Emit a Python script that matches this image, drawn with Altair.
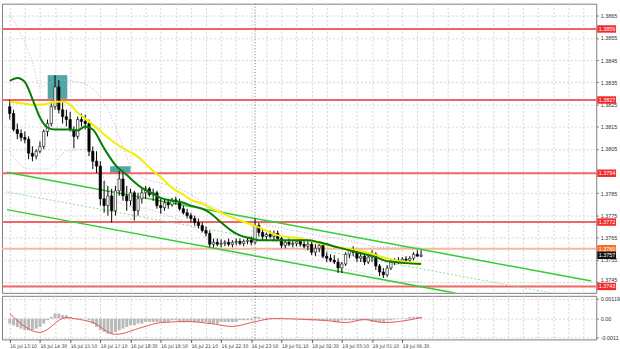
import altair as alt
import pandas as pd

# ---------------- data ----------------
time_labels = ["16 Jul 13:10", "16 Jul 14:30", "16 Jul 15:50", "16 Jul 17:10", "16 Jul 18:30",
               "16 Jul 19:50", "16 Jul 21:10", "16 Jul 22:30", "16 Jul 23:50", "19 Jul 01:10",
               "19 Jul 02:30", "19 Jul 03:50", "19 Jul 05:10", "19 Jul 06:30"]
label_bars = [0, 16, 32, 48, 64, 80, 96, 112, 128, 144, 160, 176, 192, 208]

candle_bars = list(range(0, 220, 2))
first_open = 1.38240
highs = [1.38271, 1.38226, 1.38164, 1.38137, 1.38128, 1.38106, 1.38061, 1.38048, 1.38084, 1.38137,
         1.38182, 1.38262, 1.38382, 1.38360, 1.38262, 1.38226, 1.38217, 1.38151, 1.38195, 1.38209,
         1.38204, 1.38182, 1.38061, 1.38039, 1.37994, 1.37905, 1.37883, 1.37870, 1.37883, 1.37950,
         1.37941, 1.37883, 1.37870, 1.37861, 1.37852, 1.37870, 1.37883, 1.37878, 1.37870, 1.37861,
         1.37825, 1.37825, 1.37825, 1.37829, 1.37834, 1.37825, 1.37794, 1.37780, 1.37762, 1.37749,
         1.37736, 1.37718, 1.37700, 1.37682, 1.37646, 1.37646, 1.37642, 1.37638, 1.37646, 1.37638,
         1.37646, 1.37646, 1.37642, 1.37651, 1.37655, 1.37736, 1.37718, 1.37691, 1.37673, 1.37682,
         1.37682, 1.37682, 1.37655, 1.37638, 1.37646, 1.37638, 1.37638, 1.37646, 1.37638, 1.37638,
         1.37638, 1.37620, 1.37629, 1.37624, 1.37584, 1.37575, 1.37571, 1.37557, 1.37540, 1.37584,
         1.37602, 1.37611, 1.37593, 1.37584, 1.37584, 1.37571, 1.37593, 1.37584, 1.37531, 1.37513,
         1.37526, 1.37548, 1.37557, 1.37562, 1.37562, 1.37566, 1.37566, 1.37584, 1.37593, 1.37593]
lows = [1.38182, 1.38128, 1.38093, 1.38084, 1.38075, 1.38003, 1.37994, 1.38003, 1.38030, 1.38048,
        1.38106, 1.38151, 1.38226, 1.38209, 1.38164, 1.38151, 1.38128, 1.38052, 1.38093, 1.38151,
        1.38137, 1.38017, 1.37959, 1.37941, 1.37794, 1.37762, 1.37749, 1.37718, 1.37749, 1.37838,
        1.37816, 1.37771, 1.37794, 1.37727, 1.37749, 1.37803, 1.37825, 1.37834, 1.37816, 1.37780,
        1.37758, 1.37771, 1.37780, 1.37789, 1.37798, 1.37771, 1.37754, 1.37736, 1.37718, 1.37704,
        1.37691, 1.37673, 1.37655, 1.37606, 1.37606, 1.37611, 1.37606, 1.37611, 1.37611, 1.37606,
        1.37615, 1.37615, 1.37611, 1.37620, 1.37615, 1.37620, 1.37655, 1.37638, 1.37638, 1.37646,
        1.37638, 1.37638, 1.37602, 1.37602, 1.37611, 1.37606, 1.37611, 1.37611, 1.37602, 1.37593,
        1.37571, 1.37566, 1.37584, 1.37557, 1.37540, 1.37540, 1.37531, 1.37490, 1.37490, 1.37522,
        1.37557, 1.37566, 1.37540, 1.37540, 1.37526, 1.37531, 1.37540, 1.37504, 1.37477, 1.37468,
        1.37473, 1.37504, 1.37526, 1.37531, 1.37535, 1.37540, 1.37540, 1.37548, 1.37566, 1.37562]
closes = [1.38209, 1.38137, 1.38119, 1.38101, 1.38093, 1.38030, 1.38017, 1.38039, 1.38061, 1.38128,
          1.38164, 1.38240, 1.38329, 1.38226, 1.38195, 1.38182, 1.38137, 1.38106, 1.38182, 1.38173,
          1.38164, 1.38039, 1.37994, 1.37972, 1.37825, 1.37794, 1.37838, 1.37771, 1.37861, 1.37914,
          1.37838, 1.37816, 1.37852, 1.37771, 1.37825, 1.37852, 1.37870, 1.37843, 1.37852, 1.37794,
          1.37785, 1.37807, 1.37798, 1.37820, 1.37812, 1.37780, 1.37762, 1.37749, 1.37736, 1.37718,
          1.37704, 1.37682, 1.37669, 1.37620, 1.37629, 1.37620, 1.37624, 1.37629, 1.37620, 1.37629,
          1.37633, 1.37624, 1.37633, 1.37638, 1.37629, 1.37704, 1.37673, 1.37655, 1.37664, 1.37655,
          1.37669, 1.37646, 1.37615, 1.37629, 1.37620, 1.37624, 1.37633, 1.37620, 1.37611, 1.37620,
          1.37584, 1.37602, 1.37615, 1.37566, 1.37557, 1.37548, 1.37540, 1.37513, 1.37531, 1.37575,
          1.37593, 1.37584, 1.37557, 1.37566, 1.37540, 1.37562, 1.37575, 1.37522, 1.37495, 1.37482,
          1.37513, 1.37540, 1.37548, 1.37544, 1.37553, 1.37548, 1.37557, 1.37575, 1.37566, 1.37571]

ma_bars = [0, 4, 8, 12, 16, 20, 24, 28, 32, 36, 40, 44, 50, 56, 62, 66, 70, 76, 80, 86,
           92, 96, 102, 106, 112, 118, 122, 128, 132, 142, 154, 158, 164, 174, 184, 194, 200, 204, 210, 218]
ma_fast = [1.38356, 1.38369, 1.38351, 1.38275, 1.38191, 1.38146, 1.38137, 1.38137, 1.38137, 1.38133,
           1.38151, 1.38137, 1.38052, 1.37977, 1.37932, 1.37901, 1.37874, 1.37847, 1.37829, 1.37816,
           1.37807, 1.37794, 1.37780, 1.37762, 1.37718, 1.37678, 1.37660, 1.37646, 1.37638, 1.37638,
           1.37638, 1.37638, 1.37629, 1.37606, 1.37584, 1.37562, 1.37544, 1.37540, 1.37535, 1.37531]
ma_slow = [1.38262, 1.38258, 1.38253, 1.38249, 1.38249, 1.38253, 1.38262, 1.38262, 1.38249, 1.38213,
           1.38186, 1.38159, 1.38115, 1.38075, 1.38043, 1.38026, 1.37999, 1.37950, 1.37923, 1.37874,
           1.37843, 1.37820, 1.37803, 1.37785, 1.37762, 1.37740, 1.37727, 1.37709, 1.37696, 1.37660,
           1.37646, 1.37638, 1.37624, 1.37606, 1.37593, 1.37571, 1.37557, 1.37548, 1.37540, 1.37535]

band_up_bars = [0, 6, 12, 16, 20, 26, 36, 44, 52, 58, 64, 70, 80, 90, 104, 116, 128, 140, 156, 170, 184, 196, 218]
band_up = [1.38654, 1.38565, 1.38440, 1.38329, 1.38342, 1.38360, 1.38351, 1.38320, 1.38226, 1.38106,
           1.37972, 1.37923, 1.37896, 1.37869, 1.37803, 1.37758, 1.37727, 1.37700, 1.37673, 1.37651,
           1.37629, 1.37606, 1.37606]
band_lo_bars = [0, 10, 20, 30, 40, 46, 54, 62, 72, 84, 96, 104, 112, 122, 130, 138, 150, 160, 170, 180, 192, 200, 218]
band_lo = [1.38039, 1.37959, 1.37959, 1.38039, 1.38048, 1.37994, 1.37838, 1.37794, 1.37780, 1.37749,
           1.37704, 1.37646, 1.37593, 1.37571, 1.37566, 1.37593, 1.37602, 1.37584, 1.37540, 1.37504,
           1.37482, 1.37455, 1.37450]

channel_names = ["upper", "upper", "lower", "lower", "middle", "middle"]
channel_bars = [-1.5, 308.2, -1.5, 236, -1.5, 288]
channel_prices = [1.37944, 1.37454, 1.37776, 1.37400, 1.37856, 1.37399]

level_prices = [1.3859, 1.3827, 1.3794, 1.3772, 1.3743, 1.3760]
level_labels = ["1.3859", "1.3827", "1.3794", "1.3772", "1.3743", "1.3760"]
level_line_colors = ["#f06666", "#f06666", "#f06666", "#f06666", "#f06666", "#f7b89c"]
level_box_colors = ["#f52a2a", "#f52a2a", "#f52a2a", "#f52a2a", "#f52a2a", "#f2702e"]
current_price = [1.3757]
current_label = ["1.3757"]

zone_start = [20.1, 53.2]
zone_end = [30.5, 64.0]
zone_top = [1.38382, 1.37972]
zone_bottom = [1.38275, 1.37937]

separator_bar = [130]

# 1.3795 is hidden behind the 1.3794 level box in the reference
price_ticks = [1.3745, 1.3755, 1.3765, 1.3775, 1.3785, 1.3805,
               1.3815, 1.3825, 1.3835, 1.3845, 1.3855, 1.3865]

macd_hist = [-3, -4, -5, -6, -7, -7, -7, -6, -5, -3,
             -1, 1, 3, 3, 2, 2, 1, 0.3, 0.3, 0.3,
             0.2, -1, -3, -5, -7, -8, -9, -9, -8, -7,
             -6, -5, -4, -4, -3, -3, -2, -2, -2, -2,
             -2, -2, -2, -1, -1, -2, -2, -2, -2, -2,
             -2, -2, -2, -3, -3, -3, -2, -2, -2, -2,
             -2, -1, -1, -1, -1, 1, 1, 0.4, 0.4, 0.3,
             0.3, 0.3, 0.2, 0.2, 0.2, 0.2, 0.2, 0.2, -0.3, -1,
             -1, -1, -1, -1, -1, -1, -2, -2, -1, -1,
             -1, -1, -1, -1, -1, -1, -2, -2, -2, -2,
             -1, -1, -0.4, -0.3, 0.3, 0.4, 1, 1, 1, 1]  # in units of 0.0001
sig_bars = [0, 16, 30, 34, 44, 56, 70, 80, 94, 106, 118, 128, 140, 158, 168, 178, 188, 198, 206, 218]
sig_vals = [0.00029, -0.00082, 0.00006, 0.0, -0.00024, -0.00094, -0.00053, -0.00024, -0.00018, -0.00029,
            -0.00047, -0.00024, 0.0, -0.00006, -0.00012, -0.00024, -0.00006, -0.00024, -0.00018, 0.00006]
macd_ticks = [0.00119, 0.0, -0.0011]
macd_tick_text = ["0.00119", "0.00", "-0.0011"]

# ---------------- frames ----------------
opens = [first_open] + closes[:-1]
candles = pd.DataFrame({"bar": candle_bars, "open": opens, "high": highs, "low": lows, "close": closes})
candles["fill"] = ["#ffffff" if c > o else "#000000" for o, c in zip(opens, closes)]

ma_df = pd.DataFrame({"bar": ma_bars, "fast": ma_fast, "slow": ma_slow})
bup_df = pd.DataFrame({"bar": band_up_bars, "p": band_up})
blo_df = pd.DataFrame({"bar": band_lo_bars, "p": band_lo})
chan_df = pd.DataFrame({"name": channel_names, "bar": channel_bars, "p": channel_prices})
lev_df = pd.DataFrame({"p": level_prices, "label": level_labels, "line": level_line_colors, "box": level_box_colors})
cur_df = pd.DataFrame({"p": current_price, "label": current_label})
zone_df = pd.DataFrame({"b0": zone_start, "b1": zone_end, "p0": zone_top, "p1": zone_bottom})
sep_df = pd.DataFrame({"bar": separator_bar})
hist_df = pd.DataFrame({"bar": candle_bars, "h": [v / 10000 for v in macd_hist]})
sig_df = pd.DataFrame({"bar": sig_bars, "s": sig_vals})

# ---------------- scales / axes ----------------
W = 600
MAIN_H = 292
MACD_H = 44
FONT = "Liberation Sans"
NARROW = "Liberation Sans Narrow, DejaVu Sans Condensed, Liberation Sans"

xs = alt.Scale(domain=[-1.5, 308.2], nice=False, zero=False)
ys = alt.Scale(domain=[1.37401, 1.38704], nice=False, zero=False)
ms = alt.Scale(domain=[-0.00124, 0.00135], nice=False, zero=False)

grid_vals = list(range(0, 305, 8))
label_js = "[" + ",".join("'" + t + "'" for t in time_labels) + "]"
lab_test = "datum.value % 16 == 0 && datum.value <= 208"

x_axis_main = alt.Axis(values=grid_vals, labels=False, ticks=False, domain=False, grid=True,
                       gridColor="#d6d6d6", gridDash=[2, 2], gridWidth=1, title=None)
x_axis_macd = alt.Axis(values=grid_vals, grid=True, gridColor="#d6d6d6", gridDash=[2, 2], gridWidth=1,
                       labelExpr="(" + lab_test + ") ? " + label_js + "[datum.value/16] : ''",
                       labelAlign="left", labelFontSize=5, labelFont=NARROW, labelColor="#333333",
                       labelPadding=1, labelFlush=False, labelOverlap=False, labelBound=False,
                       tickSize=3, tickColor="#555555",
                       tickOpacity={"condition": {"test": lab_test, "value": 1}, "value": 0},
                       domain=False, title=None)
y_axis_main = alt.Axis(orient="right", values=price_ticks, format=".4f", labelFontSize=5.5, labelFont=FONT,
                       labelColor="#333333", labelPadding=2, tickSize=2, tickColor="#666666",
                       labelOffset={"condition": {"test": "datum.value < 1.375", "value": -2.5}, "value": 0},
                       domain=False, grid=True, gridColor="#d6d6d6", gridDash=[2, 2], title=None)
macd_label_expr = "datum.value > 0.0005 ? '" + macd_tick_text[0] + "' : (datum.value < -0.0005 ? '" + \
                  macd_tick_text[2] + "' : '" + macd_tick_text[1] + "')"
y_axis_macd = alt.Axis(orient="right", values=macd_ticks, labelExpr=macd_label_expr, labelFontSize=5.5,
                       labelFont=FONT, labelColor="#333333", labelPadding=2, tickSize=2, tickColor="#666666",
                       domain=False, grid=True, gridColor="#d6d6d6", gridDash=[2, 2], title=None)

X = lambda f: alt.X(f, type="quantitative", scale=xs, axis=x_axis_main)
Y = lambda f: alt.Y(f, type="quantitative", scale=ys, axis=y_axis_main)

# ---------------- main panel ----------------
base_axes = alt.Chart(candles).mark_rule(opacity=0).encode(x=X("bar"), y=Y("close"))

zones = alt.Chart(zone_df).mark_rect(color="#3e9c9c", opacity=0.9).encode(
    x=X("b0"), x2="b1", y=Y("p0"), y2="p1")

levels = alt.Chart(lev_df).mark_rule(strokeWidth=2).encode(
    y=Y("p"), color=alt.Color("line:N", scale=None))

sep = alt.Chart(sep_df).mark_rule(color="#6e6e6e", strokeDash=[1, 2], strokeWidth=1).encode(x=X("bar"))

bands_up = alt.Chart(bup_df).mark_line(color="#c7a3dd", strokeDash=[1, 2], strokeWidth=1,
                                       interpolate="monotone").encode(x=X("bar"), y=Y("p"))
bands_lo = alt.Chart(blo_df).mark_line(color="#c7a3dd", strokeDash=[1, 2], strokeWidth=1,
                                       interpolate="monotone").encode(x=X("bar"), y=Y("p"))

chan_solid = alt.Chart(chan_df).transform_filter("datum.name != 'middle'").mark_line(
    color="#33cc33", strokeWidth=1.5, clip=True).encode(x=X("bar"), y=Y("p"), detail="name:N")
chan_mid = alt.Chart(chan_df).transform_filter("datum.name == 'middle'").mark_line(
    color="#8fdc8f", strokeWidth=1, strokeDash=[2, 2], clip=True).encode(x=X("bar"), y=Y("p"))

wicks = alt.Chart(candles).mark_rule(color="#000000", strokeWidth=1).encode(
    x=X("bar"), y=Y("low"), y2="high")
bodies = alt.Chart(candles).mark_bar(size=2.4, stroke="#000000", strokeWidth=0.6).encode(
    x=X("bar"), y=Y("open"), y2="close", fill=alt.Fill("fill:N", scale=None))

slow = alt.Chart(ma_df).mark_line(color="#f2ee00", strokeWidth=2, interpolate="monotone").encode(
    x=X("bar"), y=Y("slow"))
fast = alt.Chart(ma_df).mark_line(color="#087a08", strokeWidth=2, interpolate="monotone").encode(
    x=X("bar"), y=Y("fast"))

boxes = alt.Chart(lev_df).mark_tick(size=19, thickness=7.5, opacity=1).encode(
    x=alt.value(610.5), y=Y("p"), color=alt.Color("box:N", scale=None))
box_text = alt.Chart(lev_df).mark_text(align="left", baseline="middle", fontSize=5.5, font=FONT,
                                       color="#ffffff").encode(x=alt.value(602.5), y=Y("p"), text="label:N")
cur_box = alt.Chart(cur_df).mark_tick(size=19, thickness=7.5, color="#111111", opacity=1).encode(
    x=alt.value(610.5), y=Y("p"))
cur_text = alt.Chart(cur_df).mark_text(align="left", baseline="middle", fontSize=5.5, font=FONT,
                                       color="#ffffff").encode(x=alt.value(602.5), y=Y("p"), text="label:N")

main = alt.layer(base_axes, zones, levels, sep, bands_up, bands_lo, chan_mid, chan_solid,
                 wicks, bodies, slow, fast, boxes, box_text, cur_box, cur_text).properties(
    width=W, height=MAIN_H)

# ---------------- MACD panel ----------------
XM = lambda f: alt.X(f, type="quantitative", scale=xs, axis=x_axis_macd)
YM = lambda f: alt.Y(f, type="quantitative", scale=ms, axis=y_axis_macd)

hist = alt.Chart(hist_df).mark_bar(size=3, color="#b9b9b9").encode(x=XM("bar"), y=YM("h"))
sig = alt.Chart(sig_df).mark_line(color="#e65555", strokeWidth=1, interpolate="monotone").encode(
    x=XM("bar"), y=YM("s"))
sep2 = alt.Chart(sep_df).mark_rule(color="#6e6e6e", strokeDash=[1, 2], strokeWidth=1).encode(x=XM("bar"))

macd = alt.layer(hist, sep2, sig).properties(width=W, height=MACD_H)

chart = alt.vconcat(main, macd, spacing=1).properties(
    padding={"left": 0, "top": 1, "right": 0, "bottom": 0},
    background="#ffffff",
).configure_view(stroke="#7d7d7d", strokeWidth=1)

chart.save("out.html", embed_options={"renderer": "svg", "actions": False})
